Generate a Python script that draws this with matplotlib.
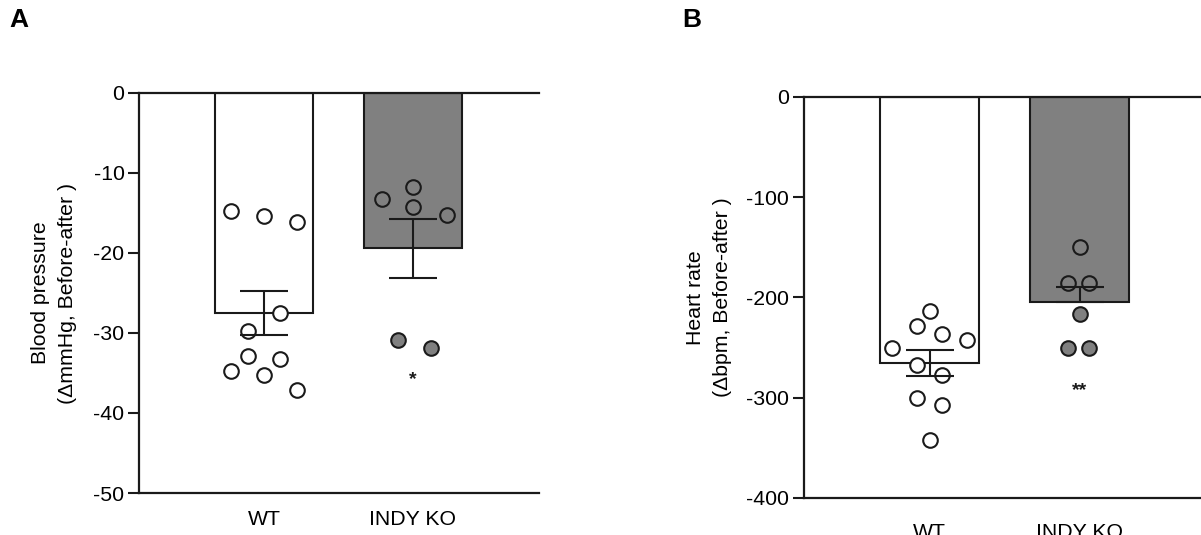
import matplotlib.pyplot as plt
import numpy as np

plt.rcParams['font.family'] = ['Liberation Sans', 'DejaVu Sans']
plt.rcParams['axes.unicode_minus'] = False

# 数据
groups = ['WT', 'INDY KO']

bp_wt = [-14.7, -15.4, -16.1, -27.5, -29.8, -32.9, -33.3, -34.7, -35.2, -37.1]
bp_wt_dx = [-0.22, 0.0, 0.22, 0.11, -0.11, -0.11, 0.11, -0.22, 0.0, 0.22]
bp_ko = [-13.3, -11.8, -14.2, -15.2, -30.9, -31.9]
bp_ko_dx = [-0.21, 0.0, 0.0, 0.23, -0.10, 0.12]
bp_mean = [-27.5, -19.4]
bp_sem_low = [2.8, 3.7]
bp_sem_high = [2.8, 3.7]

hr_wt = [-213, -228, -236, -242, -250, -267, -277, -300, -307, -342]
hr_wt_dx = [0.0, -0.085, 0.08, 0.25, -0.25, -0.085, 0.08, -0.085, 0.08, 0.0]
hr_ko = [-150, -186, -186, -216, -250, -250]
hr_ko_dx = [0.0, -0.075, 0.065, 0.0, -0.075, 0.065]
hr_mean = [-265, -205]
hr_sem_low = [13, 0]
hr_sem_high = [13, 15]

bar_colors = ['white', '#808080']
line_c = '#1a1a1a'
fs = 15.3


def panel(ax, mean, sem_low, sem_high, pts, dxs, ymin, yticks, ylabel,
          label_x, star, star_y, cat_pad):
    x = np.arange(len(groups))
    ax.bar(x, mean, width=0.66, color=bar_colors, edgecolor=line_c,
           linewidth=1.5, zorder=1)
    for i, (p, dx) in enumerate(zip(pts, dxs)):
        ax.plot(i + np.array(dx), p, 'o', ms=10.5, mew=1.5, mec=line_c,
                mfc=bar_colors[i], linestyle='none', zorder=2)
    ax.errorbar(x, mean, yerr=[sem_low, sem_high], fmt='none', ecolor=line_c,
                elinewidth=1.5, capsize=17.5, capthick=1.5, zorder=3)
    ax.text(1, star_y, star, ha='center', va='center', fontsize=14,
            fontweight='bold', color=line_c)

    ax.set_xlim(-0.837, 1.846)
    ax.set_ylim(ymin, 0)
    ax.set_yticks(yticks)
    ax.set_xticks(x)
    ax.set_xticklabels(groups, fontsize=fs)
    ax.tick_params(axis='x', length=0, pad=cat_pad)
    ax.tick_params(axis='y', length=8, width=1.5, pad=2.7, labelsize=fs,
                   color=line_c)
    for s in ['left', 'top', 'bottom']:
        ax.spines[s].set_linewidth(1.6)
        ax.spines[s].set_color(line_c)
    ax.spines['right'].set_visible(False)
    ax.text(label_x, 0.5, ylabel, transform=ax.transAxes, rotation=90,
            ha='center', va='center', multialignment='center',
            fontsize=fs, linespacing=1.5)


fig = plt.figure(figsize=(12.01, 5.35), dpi=100)
ax1 = fig.add_axes([0.1160, 0.0785, 0.3328, 0.7477])
ax2 = fig.add_axes([0.6694, 0.0692, 0.3351, 0.7495])

panel(ax1, bp_mean, bp_sem_low, bp_sem_high, [bp_wt, bp_ko],
      [bp_wt_dx, bp_ko_dx], -50, [0, -10, -20, -30, -40, -50],
      'Blood pressure\n(ΔmmHg, Before-after )', -0.213, '*', -35.8, 12)
panel(ax2, hr_mean, hr_sem_low, hr_sem_high, [hr_wt, hr_ko],
      [hr_wt_dx, hr_ko_dx], -400, [0, -100, -200, -300, -400],
      'Heart rate\n(Δbpm, Before-after )', -0.236, '**', -293, 18)

fig.text(9 / 1201, 1 - 20 / 535, 'A', fontsize=19, fontweight='bold',
         ha='left', va='center')
fig.text(682 / 1201, 1 - 20 / 535, 'B', fontsize=19, fontweight='bold',
         ha='left', va='center')

fig.savefig('out.png', dpi=100)
